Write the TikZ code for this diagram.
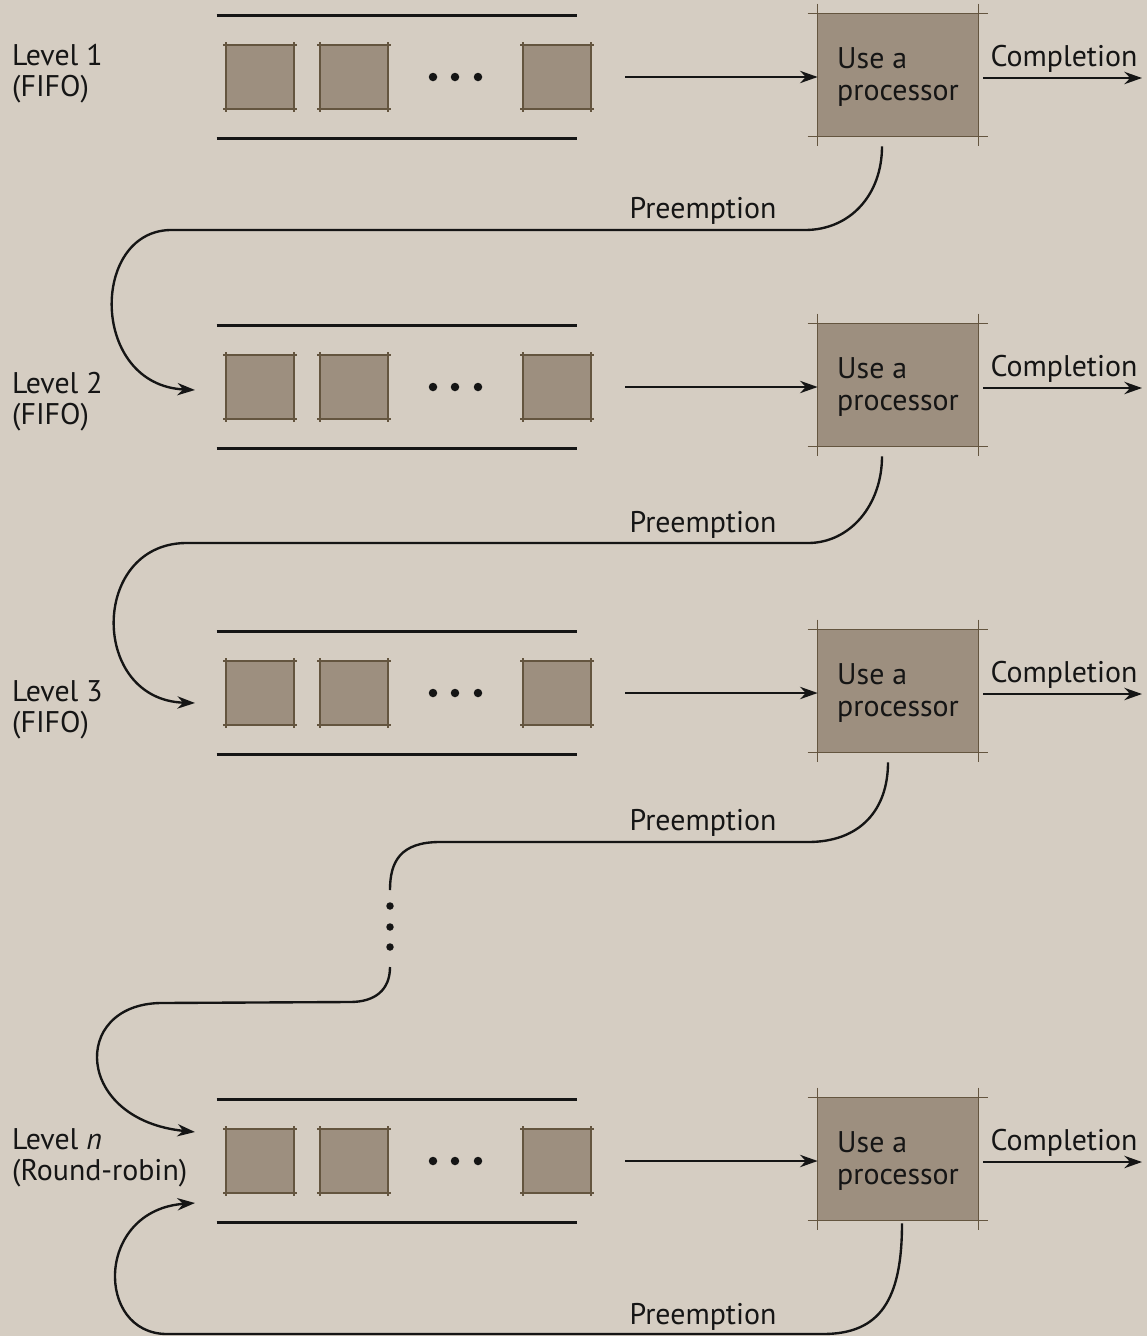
\documentclass[tikz,border=0pt]{standalone}
\usepackage{fontspec}
\setmainfont{PT Sans}
\usetikzlibrary{arrows.meta,calc}
\definecolor{paper}{HTML}{D5CDC2}
\definecolor{job}{HTML}{9D8F7F}
\definecolor{edge}{HTML}{64553F}
\definecolor{ink}{HTML}{151515}

\begin{document}
\begin{tikzpicture}[x=0.02cm,y=-0.02cm,
  every node/.style={font=\fontsize{17}{17.6}\selectfont, text=ink},
  conn/.style={draw=ink, line width=1.35pt},
  arr/.style={conn, -{Stealth[length=10pt,width=7pt]}},
  rail/.style={draw=ink, line width=1.35pt},
  lane/.style={minimum width=7.2cm, minimum height=2.44cm, inner sep=0pt},
  jobbox/.style={fill=job, minimum width=1.34cm, minimum height=1.26cm, inner sep=0pt},
  cpu/.style={fill=job, minimum width=3.2cm, minimum height=2.44cm, inner sep=0pt},
  cputext/.style={align=left, font=\fontsize{17}{18.7}\selectfont},
  tick/.style={draw=edge, line width=0.9pt},
  dot/.style={circle, fill=ink, inner sep=0pt, minimum size=0.17cm},
  vdot/.style={circle, fill=ink, inner sep=0pt, minimum size=0.15cm},
  lvl/.style={anchor=west, align=left},
]
% paper
\useasboundingbox (0,0) rectangle (1147,1336);
\fill[paper] (0,0) rectangle (1147,1336);

% frame lines that run a little past the corners of a box
\newcommand\ruledframe[2]{%
  \draw[tick] ($(#1.north west)+(-#2,0)$) -- ($(#1.north east)+(#2,0)$);
  \draw[tick] ($(#1.south west)+(-#2,0)$) -- ($(#1.south east)+(#2,0)$);
  \draw[tick] ($(#1.north west)+(0,-#2)$) -- ($(#1.south west)+(0,#2)$);
  \draw[tick] ($(#1.north east)+(0,-#2)$) -- ($(#1.south east)+(0,#2)$);
}

% one row per priority level
\foreach \k/\y in {1/77, 2/387, 3/693, n/1161}{
  % queue rails
  \node[lane] (q\k) at (397,\y) {};
  \draw[rail] (q\k.north west) -- (q\k.north east);
  \draw[rail] (q\k.south west) -- (q\k.south east);
  % waiting jobs
  \node[jobbox] (s\k a) at (260,\y) {};
  \node[jobbox] (s\k b) at (354,\y) {};
  \node[jobbox] (s\k c) at (557,\y) {};
  \ruledframe{s\k a}{3}
  \ruledframe{s\k b}{3}
  \ruledframe{s\k c}{3}
  \node[dot] (d\k a) at (433,\y) {};
  \node[dot] (d\k b) at (455,\y) {};
  \node[dot] (d\k c) at (478,\y) {};
  % processor
  \node[cpu] (p\k) at (898,\y-2) {};
  \ruledframe{p\k}{10}
  \node[cputext] (t\k) at (898,\y) {Use a\\processor};
  \coordinate (in\k) at (625,\y);
  \draw[arr] (in\k) -- (p\k.west |- in\k);
  % completion
  \node (c\k) at (1064,\y-18) {Completion};
  \coordinate (out\k) at (983,\y+1);
  \coordinate (end\k) at (1142,\y+1);
  \draw[arr] (out\k) -- (end\k);
}

% level labels
\node[lvl] (lab1) at (6,74)   {Level 1\\(FIFO)};
\node[lvl] (lab2) at (6,402)  {Level 2\\(FIFO)};
\node[lvl] (lab3) at (6,710)  {Level 3\\(FIFO)};
\node[lvl] (labn) at (6,1158) {Level \textit{n}\\(Round-robin)};

% preemption labels
\node (pre1) at (703,211)  {Preemption};
\node (pre2) at (703,525)  {Preemption};
\node (pre3) at (703,823)  {Preemption};
\node (pren) at (703,1317) {Preemption};

% feedback entry points
\coordinate (tgt2) at (195,390);
\coordinate (tgt3) at (195,703);
\coordinate (tgtn) at (195,1132);
\coordinate (tgtr) at (195,1203);

% level 1 -> level 2
\coordinate (src1) at ($(p1.south)+(-16,10)$);
\draw[arr] (src1) .. controls (882,195) and (850,230) .. (805,230)
  -- (170,230) .. controls (90,232) and (90,385) .. (tgt2);

% level 2 -> level 3
\coordinate (src2) at ($(p2.south)+(-16,10)$);
\draw[arr] (src2) .. controls (882,505) and (850,543) .. (808,543)
  -- (185,543) .. controls (90,545) and (90,700) .. (tgt3);

% level 3 -> ... -> level n
\coordinate (src3) at ($(p3.south)+(-10,10)$);
\coordinate (gapTop) at (390,890);
\coordinate (gapBot) at (390,967);
\draw[conn] (src3) .. controls (888,810) and (860,842) .. (808,842)
  -- (440,842) .. controls (400,842) and (390,862) .. (gapTop);
\node[vdot] (v1) at (390,906) {};
\node[vdot] (v2) at (390,927) {};
\node[vdot] (v3) at (390,947) {};
\draw[arr] (gapBot) .. controls (390,990) and (375,1002) .. (350,1002)
  -- (160,1003) .. controls (70,1005) and (75,1120) .. (tgtn);

% level n back to itself (round-robin)
\coordinate (srcn) at ($(p\string n.south)+(4,3)$);
\draw[arr] (srcn) .. controls (902,1300) and (880,1334) .. (823,1334)
  -- (167,1334) .. controls (95,1334) and (95,1210) .. (tgtr);
\end{tikzpicture}
\end{document}
